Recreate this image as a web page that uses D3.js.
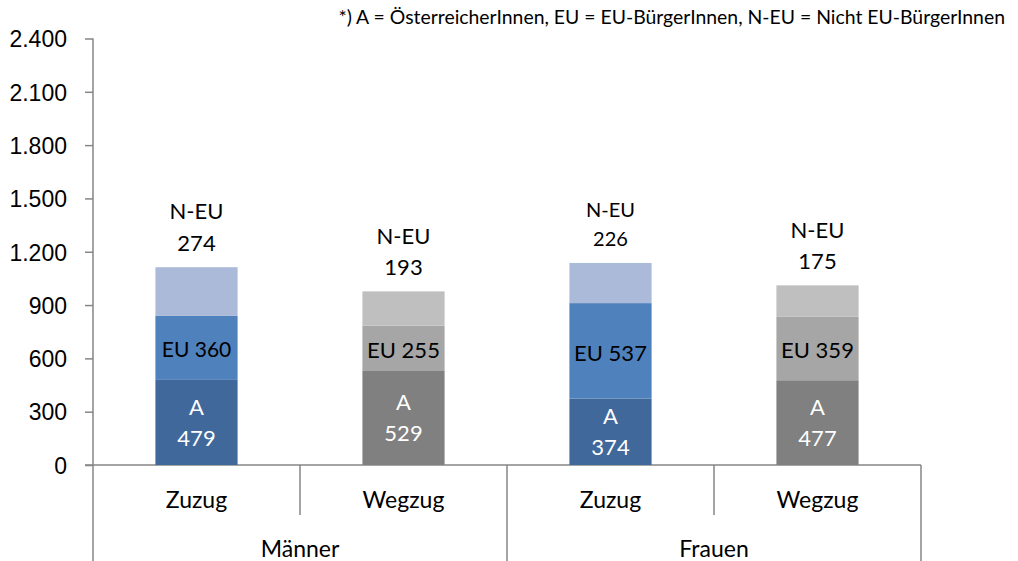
<!DOCTYPE html>
<html lang="de">
<head>
    <meta charset="UTF-8">
    <title>Zuzug / Wegzug</title>
    <style type="text/css">
        body { margin: 0; background: #fff; }
        svg { display: block; font-family: Lato, "Open Sans", sans-serif; }
        .axis path, .axis line { stroke: #868686; stroke-width: 1.5; }
        .axis text { font-size: 23px; fill: #000; }
        .sep { stroke: #868686; stroke-width: 1.5; }
    </style>
</head>
<body>
    <svg></svg>
    <script src="https://d3js.org/d3.v7.min.js"></script>
    <script>
        // data
        const groups = ["Männer", "Frauen"];
        const categories = ["Zuzug", "Wegzug", "Zuzug", "Wegzug"];
        const valuesA = [479, 529, 374, 477];
        const valuesEU = [360, 255, 537, 359];
        const valuesNEU = [274, 193, 226, 175];
        const yTicks = [0, 300, 600, 900, 1200, 1500, 1800, 2100, 2400];
        const footnote = "*) A = ÖsterreicherInnen, EU = EU-BürgerInnen, N-EU = Nicht EU-BürgerInnen";

        const zuzugColors = ["#41689b", "#4f81bd", "#aabad8"];
        const wegzugColors = ["#808080", "#a6a6a6", "#bfbfbf"];

        var svgWidth = 1018
        var svgHeight = 561

        var svg = d3.select("svg")
            .attr("width", svgWidth)
            .attr("height", svgHeight)

        // note: "top" is taken by window.top, so use other names
        var plotLeft = 93, plotRight = 921, plotTop = 38.5, plotBottom = 465

        var rows = categories.map(function(c, i){
            return { key: i, cat: c, A: valuesA[i], EU: valuesEU[i], NEU: valuesNEU[i] }
        })

        var x = d3.scaleBand()
            .domain(rows.map(d => d.key))
            .range([plotLeft, plotRight])

        var xGroup = d3.scaleBand()
            .domain(groups)
            .range([plotLeft, plotRight])

        var y = d3.scaleLinear()
            .domain([0, 2400])
            .range([plotBottom, plotTop])

        var barWidth = x.bandwidth() * 0.397

        // y axis
        var deFormat = d3.formatLocale({ decimal: ",", thousands: ".", grouping: [3], currency: ["", "€"] }).format(",d")
        var yAxis = svg.append("g")
            .attr("class", "axis")
            .attr("transform", "translate(" + plotLeft + ",0)")
            .call(d3.axisLeft(y).tickValues(yTicks).tickSize(8).tickSizeOuter(0).tickFormat(deFormat).tickPadding(18))
        yAxis.select(".domain").remove()
        yAxis.selectAll(".tick text").attr("dy", "0.36em")

        // axis lines
        svg.append("line").attr("class", "sep")
            .attr("x1", plotLeft).attr("x2", plotLeft).attr("y1", y(2400)).attr("y2", svgHeight)
        svg.append("line").attr("class", "sep")
            .attr("x1", plotLeft - 8).attr("x2", plotRight).attr("y1", plotBottom).attr("y2", plotBottom)
        svg.selectAll(".catsep")
            .data(rows.slice(1))
            .enter()
            .append("line")
            .attr("class", "sep")
            .attr("x1", d => x(d.key)).attr("x2", d => x(d.key))
            .attr("y1", plotBottom)
            .attr("y2", d => d.key % 2 == 0 ? svgHeight : 515)
        svg.append("line").attr("class", "sep")
            .attr("x1", plotRight).attr("x2", plotRight).attr("y1", plotBottom).attr("y2", svgHeight)

        // bars
        var stack = d3.stack().keys(["A", "EU", "NEU"])
        var series = stack(rows)

        var layer = svg.selectAll(".layer")
            .data(series)
            .enter()
            .append("g")
            .attr("class", "layer")

        layer.selectAll("rect")
            .data(function(s, si){ return s.map(function(p){ p.si = si; return p }) })
            .enter()
            .append("rect")
            .attr("x", d => x(d.data.key) + (x.bandwidth() - barWidth) / 2)
            .attr("width", barWidth)
            .attr("y", d => y(d[1]))
            .attr("height", d => y(d[0]) - y(d[1]))
            .attr("fill", d => d.data.cat == "Zuzug" ? zuzugColors[d.si] : wegzugColors[d.si])

        var cx = d => x(d.key) + x.bandwidth() / 2

        // A labels (white, two lines)
        var aLabel = svg.selectAll(".alabel")
            .data(rows)
            .enter()
            .append("text")
            .attr("text-anchor", "middle")
            .attr("fill", "#fff")
            .attr("font-size", 22)
            .attr("x", cx)
            .attr("y", d => (y(0) + y(d.A)) / 2)
        aLabel.append("tspan").attr("x", cx).attr("dy", "-0.36em").text("A")
        aLabel.append("tspan").attr("x", cx).attr("dy", "1.42em").text(d => d.A)

        // EU labels
        svg.selectAll(".eulabel")
            .data(rows)
            .enter()
            .append("text")
            .attr("text-anchor", "middle")
            .attr("font-size", (d, i) => i == 0 ? 21 : 22)
            .attr("x", cx)
            .attr("y", d => (y(d.A) + y(d.A + d.EU)) / 2 + 2)
            .attr("dy", "0.36em")
            .text(d => "EU " + d.EU)

        // N-EU labels above bars
        var nLabel = svg.selectAll(".nlabel")
            .data(rows)
            .enter()
            .append("text")
            .attr("text-anchor", "middle")
            .attr("font-size", (d, i) => i == 2 ? 20 : 22)
            .attr("x", cx)
            .attr("y", d => y(d.A + d.EU + d.NEU) - 24)
        nLabel.append("tspan").attr("x", cx).attr("dy", "-1.08em").text("N-EU")
        nLabel.append("tspan").attr("x", cx).attr("dy", "1.44em").text(d => d.NEU)

        // category labels
        svg.selectAll(".catlabel")
            .data(rows)
            .enter()
            .append("text")
            .attr("text-anchor", "middle")
            .attr("font-size", 23)
            .attr("x", cx)
            .attr("y", 508)
            .text(d => d.cat)

        svg.selectAll(".grouplabel")
            .data(groups)
            .enter()
            .append("text")
            .attr("text-anchor", "middle")
            .attr("font-size", 23)
            .attr("x", d => xGroup(d) + xGroup.bandwidth() / 2)
            .attr("y", 557)
            .text(d => d)

        svg.append("text")
            .attr("x", 1005)
            .attr("y", 24)
            .attr("text-anchor", "end")
            .attr("font-size", 19.4)
            .text(footnote)
    </script>
</body>
</html>
